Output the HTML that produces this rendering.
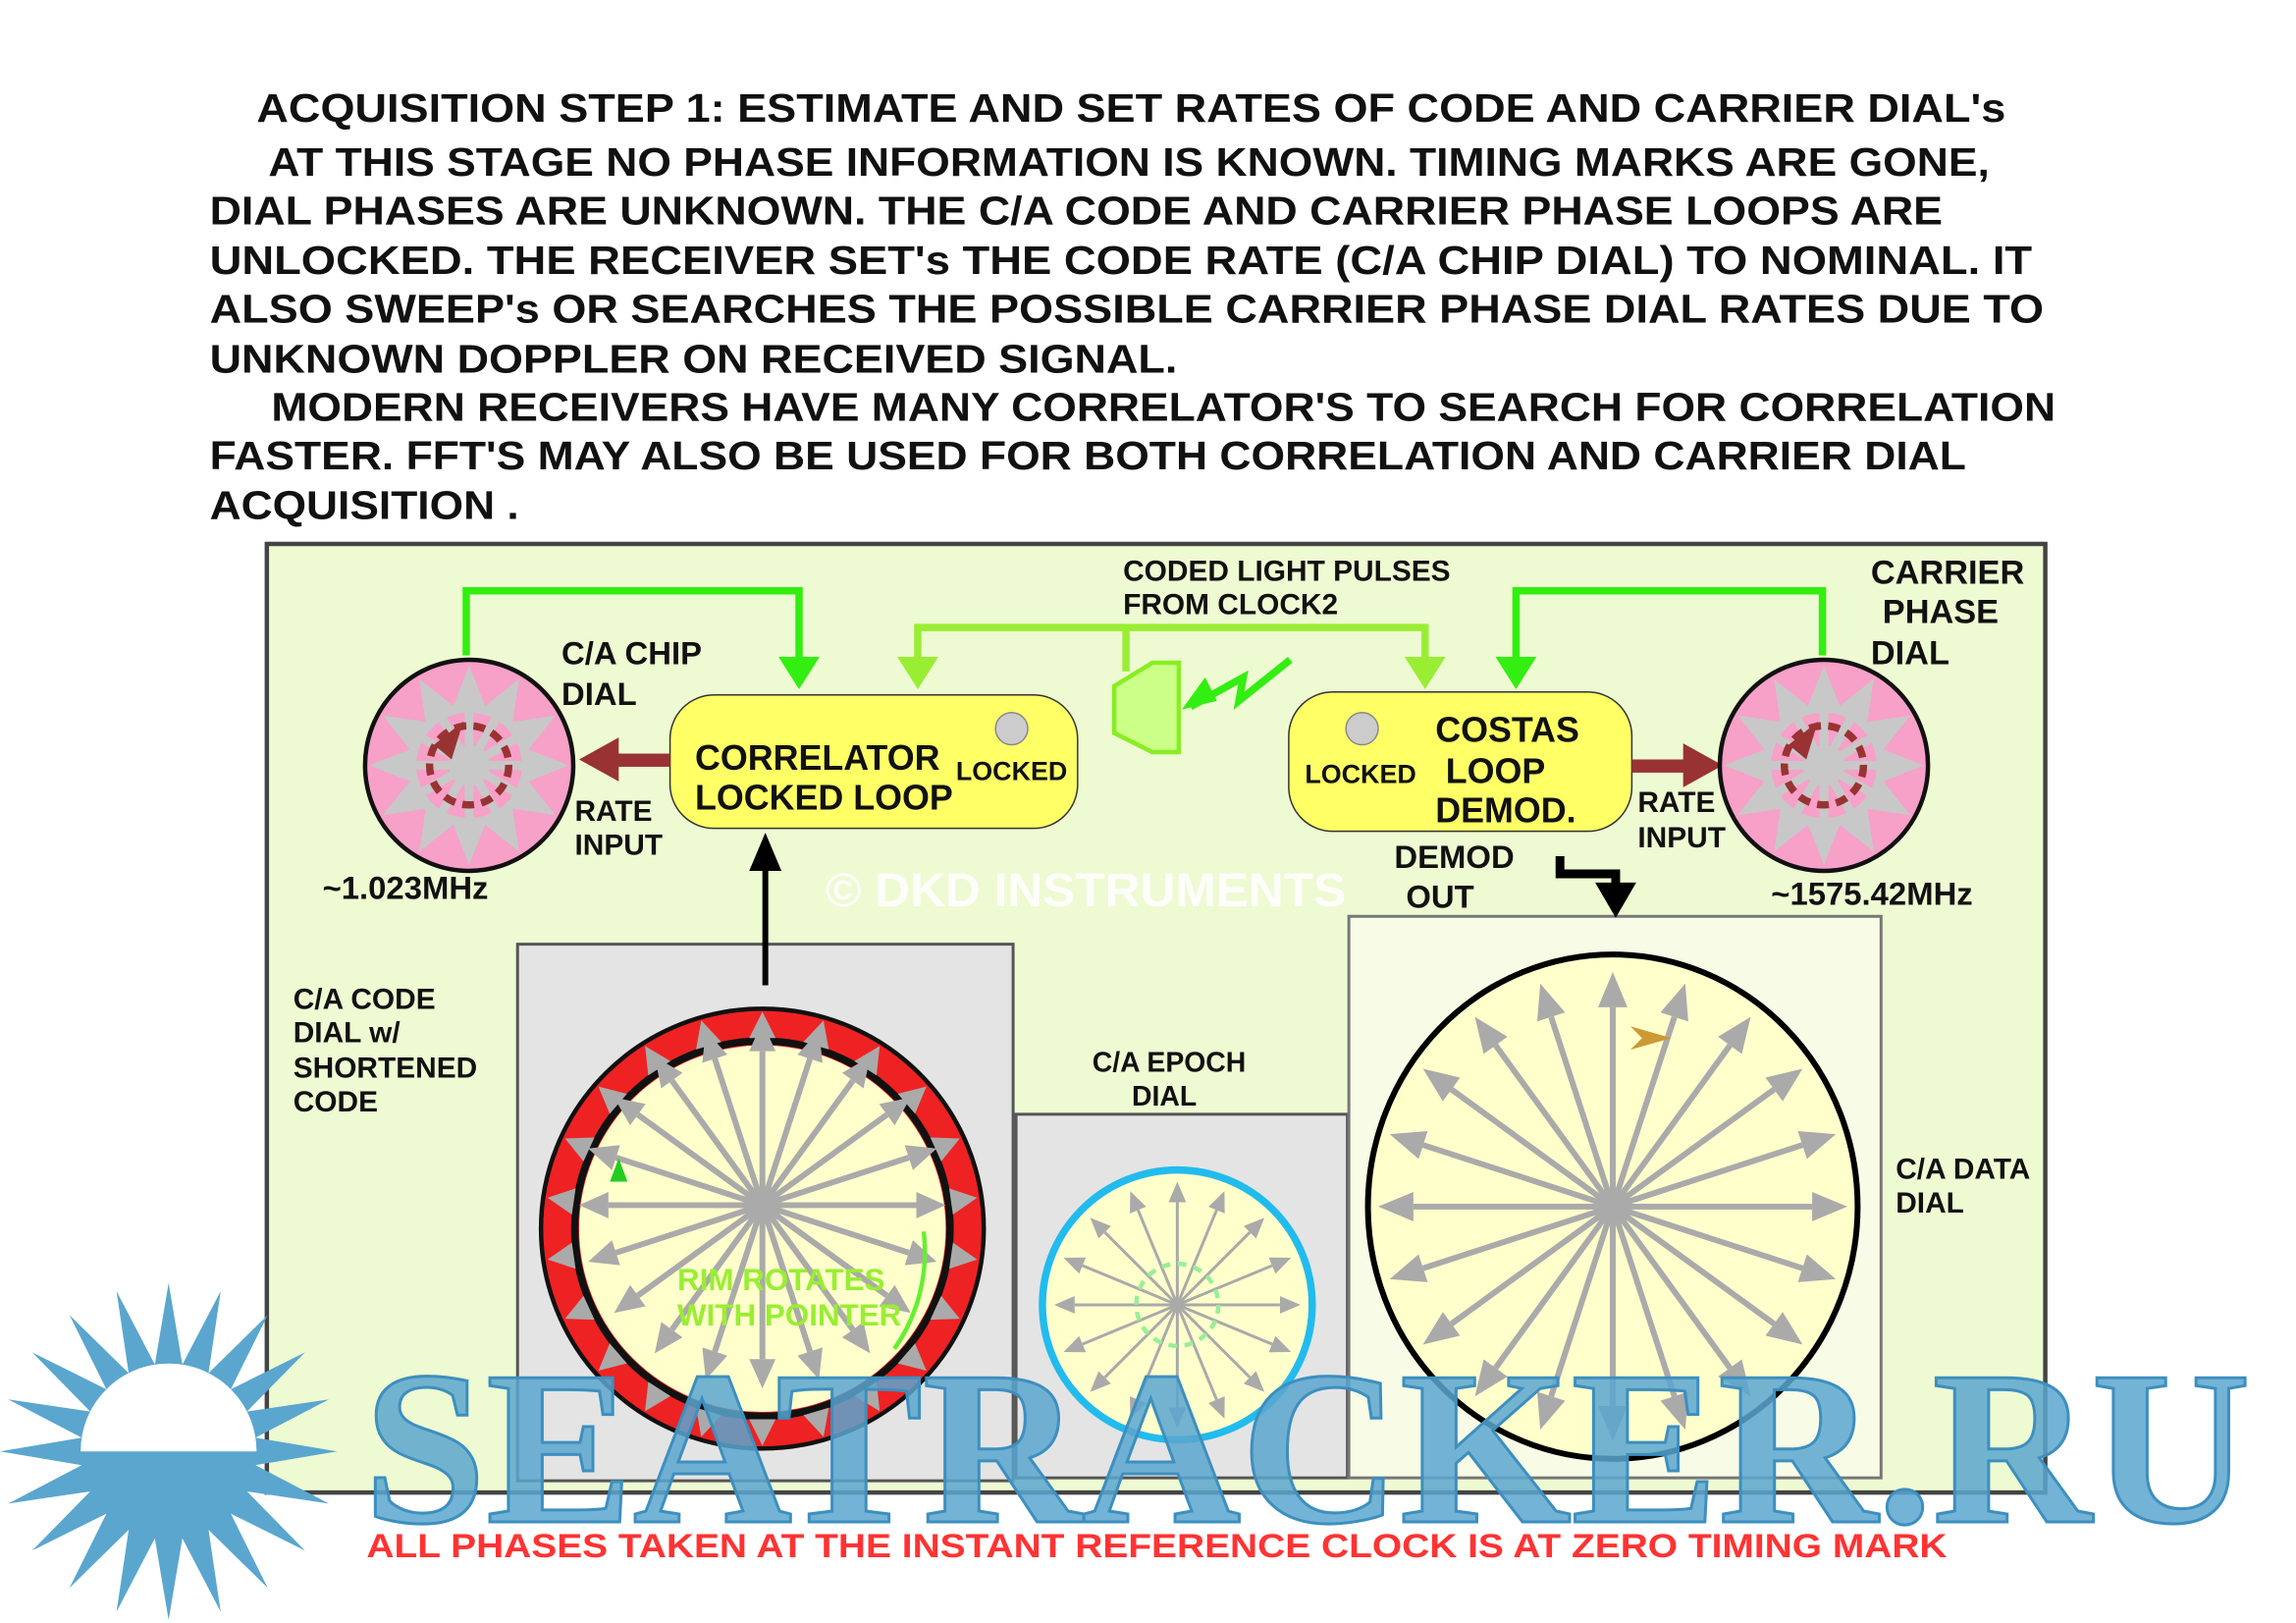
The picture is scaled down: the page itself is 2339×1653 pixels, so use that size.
<!DOCTYPE html>
<html><head><meta charset="utf-8"><style>
html,body{margin:0;padding:0;background:#fff}
svg{display:block}
text{font-family:"Liberation Sans Narrow","Liberation Sans",sans-serif;font-weight:bold}
</style></head><body>
<svg id="s" xmlns="http://www.w3.org/2000/svg" width="2339" height="1653" viewBox="0 0 1566 1107" preserveAspectRatio="none">
<rect width="1566" height="1107" fill="#fff"/>
<g font-size="27" fill="#111">
<text x="175" y="83" textLength="1193" lengthAdjust="spacingAndGlyphs">ACQUISITION STEP 1:   ESTIMATE AND SET RATES OF CODE AND CARRIER DIAL's</text>
<text x="183" y="120" textLength="1174" lengthAdjust="spacingAndGlyphs">AT THIS STAGE NO PHASE INFORMATION IS KNOWN. TIMING MARKS ARE GONE,</text>
<text x="143" y="153" textLength="1182" lengthAdjust="spacingAndGlyphs">DIAL PHASES ARE UNKNOWN. THE C/A CODE AND CARRIER PHASE  LOOPS ARE</text>
<text x="143" y="187" textLength="1243" lengthAdjust="spacingAndGlyphs">UNLOCKED.  THE RECEIVER  SET's THE CODE RATE (C/A CHIP DIAL)  TO NOMINAL. IT</text>
<text x="143" y="220" textLength="1251" lengthAdjust="spacingAndGlyphs">ALSO  SWEEP's OR SEARCHES  THE POSSIBLE CARRIER PHASE DIAL RATES DUE TO</text>
<text x="143" y="254" textLength="660" lengthAdjust="spacingAndGlyphs">UNKNOWN  DOPPLER ON RECEIVED SIGNAL.</text>
<text x="185" y="287" textLength="1217" lengthAdjust="spacingAndGlyphs">MODERN RECEIVERS HAVE MANY CORRELATOR'S TO SEARCH FOR CORRELATION</text>
<text x="143" y="320" textLength="1198" lengthAdjust="spacingAndGlyphs">FASTER. FFT'S MAY ALSO BE USED FOR BOTH CORRELATION AND CARRIER DIAL</text>
<text x="143" y="354" textLength="211" lengthAdjust="spacingAndGlyphs">ACQUISITION .</text>
</g>
<rect x="182" y="371" width="1213" height="647" fill="#eefad2" stroke="#444" stroke-width="3"/>
<rect x="353" y="644" width="338" height="366" fill="#e4e4e4" stroke="#555" stroke-width="2"/>
<rect x="693" y="760" width="226" height="248" fill="#e4e4e4" stroke="#555" stroke-width="2"/>
<rect x="920" y="625" width="363" height="383" fill="#f8fbe6" stroke="#777" stroke-width="2"/>
<g fill="none" stroke="#33ee11" stroke-width="5">
<polyline points="318,447 318,403 545,403 545,450"/>
<polyline points="1243,447 1243,403 1034,403 1034,450"/>
</g>
<g fill="#33ee11"><polygon points="531,448 559,448 545,470"/><polygon points="1020,448 1048,448 1034,470"/></g>
<g fill="none" stroke="#99ee33" stroke-width="5">
<polyline points="626,450 626,428 972,428 972,450"/><line x1="768" y1="428" x2="768" y2="458"/>
</g>
<g fill="#99ee33"><polygon points="612,448 640,448 626,470"/><polygon points="958,448 986,448 972,470"/></g>
<polygon points="760,468 786,452 804,452 804,513 786,513 760,500" fill="#ccff88" stroke="#88ee22" stroke-width="3"/>
<polyline points="880,450 845,478 848,462 812,482" fill="none" stroke="#33ee11" stroke-width="5"/>
<polygon points="806,484 822,462 830,478" fill="#33ee11"/>
<rect x="457" y="474" width="278" height="91" rx="30" fill="#ffff66" stroke="#333" stroke-width="1"/>
<rect x="879" y="472" width="234" height="95" rx="30" fill="#ffff66" stroke="#333" stroke-width="1"/>
<circle cx="690" cy="497" r="11" fill="#ccc" stroke="#888"/>
<circle cx="929" cy="497" r="11" fill="#ccc" stroke="#888"/>
<rect x="420" y="514" width="37" height="9" fill="#993333"/><polygon points="395,518 422,503 422,533" fill="#993333"/>
<rect x="1113" y="518" width="37" height="9" fill="#993333"/><polygon points="1175,522 1148,507 1148,537" fill="#993333"/>
<line x1="522" y1="672" x2="522" y2="592" stroke="#000" stroke-width="4"/><polygon points="522,568 511,594 533,594" fill="#000"/>
<polyline points="1064,584 1064,596 1102,596 1102,604" fill="none" stroke="#000" stroke-width="6"/><polygon points="1088,602 1116,602 1102,626" fill="#000"/>
<g id="pinkL"></g><g id="pinkR"></g>
<ellipse cx="520" cy="838" rx="151" ry="150" fill="#ee2222" stroke="#111" stroke-width="3"/>
<ellipse cx="520" cy="838" rx="128" ry="128" fill="none" stroke="#111" stroke-width="5"/>
<ellipse cx="520" cy="838" rx="125" ry="125" fill="#ffffcc"/>
<g id="redSp"></g>
<path d="M630,840 A115,115 0 0 1 610,920" fill="none" stroke="#66ee33" stroke-width="3"/>
<polygon points="416,806 422,790 428,806" fill="#22cc22"/>
<circle cx="803" cy="890" r="92" fill="#ffffcc" stroke="#22bbee" stroke-width="5"/>
<g id="epSp"></g>
<circle cx="803" cy="890" r="28" fill="none" stroke="#99ee99" stroke-width="3" stroke-dasharray="6 5"/>
<ellipse cx="1100" cy="823" rx="167" ry="172" fill="#ffffcc" stroke="#000" stroke-width="4"/>
<g id="dataSp"></g>
<polygon points="1112,700 1140,708 1112,716 1120,708" fill="#cc9933"/>
<g font-size="22" fill="#111">
<text x="383" y="453">C/A CHIP</text><text x="383" y="481">DIAL</text>
<text x="392" y="560" font-size="20">RATE</text><text x="392" y="583" font-size="20">INPUT</text>
<text x="220" y="613">~1.023MHz</text>
<text x="474" y="525" font-size="24">CORRELATOR</text><text x="474" y="552" font-size="24">LOCKED LOOP</text>
<text x="652" y="532" font-size="18">LOCKED</text>
<text x="766" y="396" font-size="20">CODED LIGHT PULSES</text><text x="766" y="419" font-size="20">FROM CLOCK2</text>
<text x="1276" y="398" font-size="23">CARRIER</text><text x="1284" y="425" font-size="23">PHASE</text><text x="1276" y="453" font-size="23">DIAL</text>
<text x="979" y="506" font-size="24">COSTAS</text><text x="890" y="534" font-size="18">LOCKED</text><text x="986" y="534" font-size="24">LOOP</text><text x="979" y="561" font-size="24">DEMOD.</text>
<text x="1117" y="554" font-size="20">RATE</text><text x="1117" y="578" font-size="20">INPUT</text>
<text x="951" y="592">DEMOD</text><text x="959" y="619">OUT</text>
<text x="1208" y="617">~1575.42MHz</text>
<text x="200" y="688" font-size="20">C/A CODE</text><text x="200" y="711" font-size="20">DIAL w/</text><text x="200" y="735" font-size="20">SHORTENED</text><text x="200" y="758" font-size="20">CODE</text>
<text x="745" y="731" font-size="19">C/A EPOCH</text><text x="772" y="754" font-size="19">DIAL</text>
<text x="1293" y="804" font-size="20">C/A DATA</text><text x="1293" y="827" font-size="20">DIAL</text>
</g>
<text x="563" y="618" font-size="32" fill="#fff" textLength="355" lengthAdjust="spacingAndGlyphs" opacity="0.9">© DKD INSTRUMENTS</text>
<text x="462" y="880" font-size="21" fill="#99ee33">RIM ROTATES</text>
<text x="462" y="904" font-size="21" fill="#99ee33">WITH POINTER</text>
<g id="sun"></g>
<text x="248" y="1038" font-size="150" font-weight="bold" fill="#5aa6cf" fill-opacity="0.85" stroke="#3d8fbf" stroke-width="2" textLength="1287" lengthAdjust="spacingAndGlyphs" style="font-family:'Liberation Serif',serif">SEATRACKER.RU</text>
<text x="250" y="1062" font-size="23" fill="#ff3333" textLength="1078" lengthAdjust="spacingAndGlyphs">ALL PHASES TAKEN AT THE INSTANT REFERENCE CLOCK IS AT ZERO TIMING MARK</text>
</svg>
<script>
var NS="http://www.w3.org/2000/svg";
function el(p,t,a){var e=document.createElementNS(NS,t);for(var k in a)e.setAttribute(k,a[k]);document.getElementById(p).appendChild(e);return e;}
function spokes(p,cx,cy,n,r,h,w,col,sw,off){
 for(var i=0;i<n;i++){var a=off+i*2*Math.PI/n,c=Math.cos(a),s=Math.sin(a);
  var bx=cx+c*(r-h),by=cy+s*(r-h);
  el(p,"line",{x1:cx,y1:cy,x2:bx,y2:by,stroke:col,"stroke-width":sw});
  el(p,"polygon",{points:(cx+c*r)+","+(cy+s*r)+" "+(bx-s*w)+","+(by+c*w)+" "+(bx+s*w)+","+(by-c*w),fill:col});}}
function pink(p,cx,cy){
 el(p,"ellipse",{cx:cx,cy:cy,rx:71,ry:72,fill:"#f7a0c8",stroke:"#111","stroke-width":3});
 var pts="";for(var i=0;i<24;i++){var a=-Math.PI/2+i*Math.PI/12,r=i%2?42:68;pts+=(cx+r*Math.cos(a))+","+(cy+r*Math.sin(a))+" ";}
 el(p,"polygon",{points:pts,fill:"#c8c8c8"});
 el(p,"circle",{cx:cx,cy:cy,r:36,fill:"#f7a0c8"});
 for(var i=0;i<12;i++){var a=i*Math.PI/6;el(p,"line",{x1:cx,y1:cy,x2:cx+36*Math.cos(a),y2:cy+36*Math.sin(a),stroke:"#c8c8c8","stroke-width":6});}
 el(p,"circle",{cx:cx,cy:cy,r:14,fill:"#c8c8c8"});
 el(p,"circle",{cx:cx,cy:cy,r:27,fill:"none",stroke:"#993333","stroke-width":5,"stroke-dasharray":"8 5"});
 el(p,"polygon",{points:(cx-24)+","+(cy-14)+" "+(cx-4)+","+(cy-30)+" "+(cx-12)+","+(cy-4),fill:"#993333"});}
pink("pinkL",320,522);pink("pinkR",1244,522);
spokes("redSp",520,822,20,125,20,9,"#aaa",4,-Math.PI/2);
for(var i=0;i<22;i++){var a=-Math.PI/2+i*2*Math.PI/22,c=Math.cos(a),s=Math.sin(a),cx=520,cy=838,r1=130,r2=148,w=9;
 el("redSp","polygon",{points:(cx+c*r2)+","+(cy+s*r2)+" "+(cx+c*r1-s*w)+","+(cy+s*r1+c*w)+" "+(cx+c*r1+s*w)+","+(cy+s*r1-c*w),fill:"#aaa"});}
spokes("epSp",803,890,16,84,14,6,"#aaa",2,-Math.PI/2);
spokes("dataSp",1100,823,20,160,24,10,"#aaa",4,-Math.PI/2);
var sp="";for(var i=0;i<40;i++){var a=i*Math.PI/20,r=i%2?60:115;sp+=(115+r*Math.cos(a))+","+(990+r*Math.sin(a))+" ";}
el("sun","polygon",{points:sp,fill:"#5aa6cf"});
el("sun","path",{d:"M55,990 A60,60 0 0 1 175,990 Z",fill:"#fff"});
</script>
</body></html>
